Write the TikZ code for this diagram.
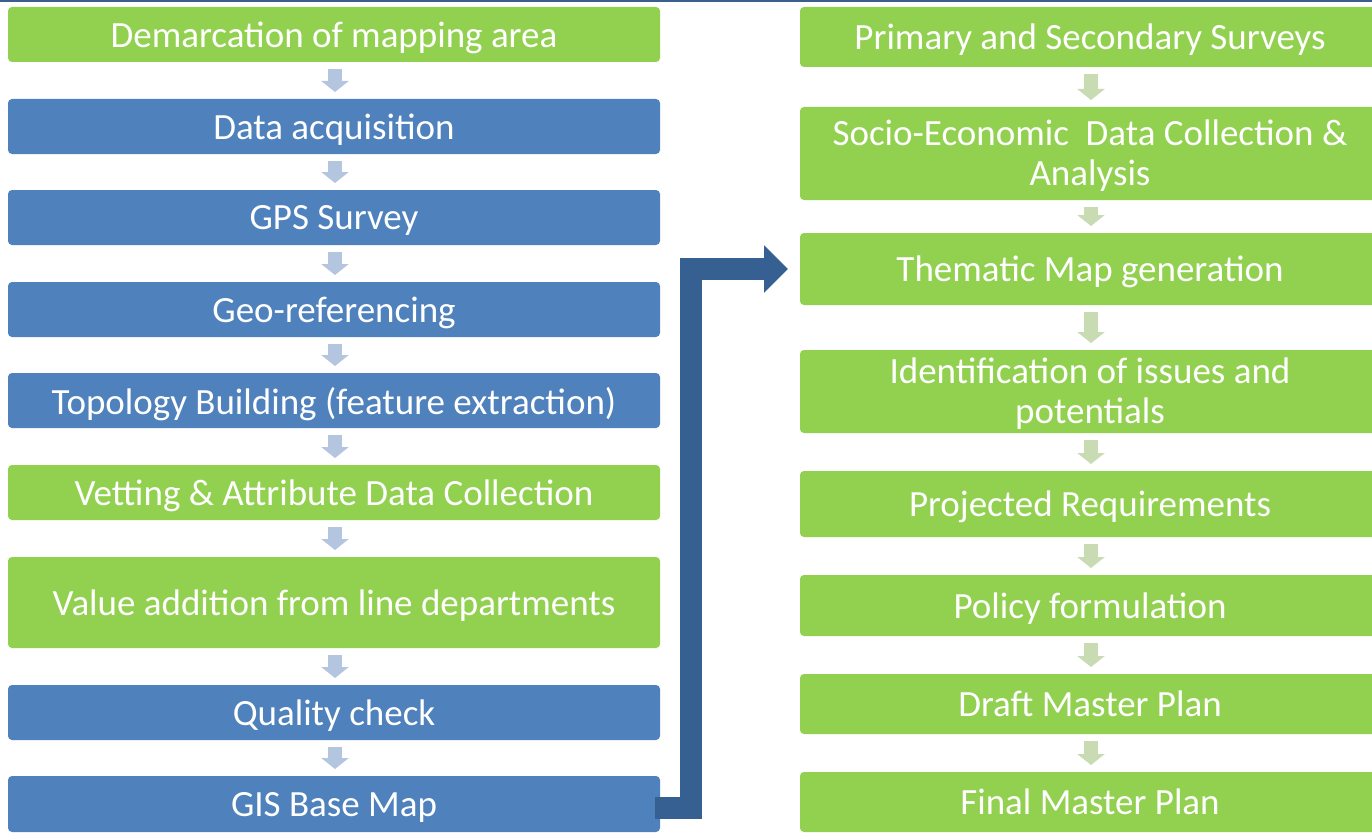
\documentclass[tikz,border=0pt]{standalone}
\usepackage{fontspec}
\setmainfont{Carlito}
\usetikzlibrary{arrows.meta}
\definecolor{gfill}{HTML}{92D050}
\definecolor{bfill}{HTML}{4F81BD}
\definecolor{darr}{HTML}{376092}
\definecolor{larr}{HTML}{B4C5E0}
\definecolor{garr}{HTML}{C8DBB3}
\definecolor{topline}{HTML}{3B5E8C}
\begin{document}
\begin{tikzpicture}[x=1pt,y=-1pt,
  box/.style={rounded corners=4pt, text=white, font=\fontsize{37}{40}\selectfont, align=center, inner sep=0pt, outer sep=0pt, text depth=0pt},
  twoline/.style={text=white, font=\fontsize{37}{40}\selectfont, align=center, inner sep=0pt},
  gbox/.style={box, fill=gfill},
  bbox/.style={box, fill=bfill},
  lcol/.style={minimum width=652pt},
  rcol/.style={minimum width=580pt},
  larrow/.style={draw=larr, line width=14pt, shorten <=7pt, shorten >=7pt, -{Triangle[width=27pt,length=11pt]}},
  rarrow/.style={draw=garr, line width=14pt, shorten <=7pt, shorten >=7pt, -{Triangle[width=27pt,length=11pt]}},
  bigarr/.style={draw=darr, line width=22pt, line join=miter, -{Triangle[width=46pt,length=24pt]}}
]
\useasboundingbox (0,0) rectangle (1372,832);
\fill[topline] (0,0) rectangle (1372,2.5);

% left column
\node[gbox, lcol, minimum height=55pt] (l1) at (334,34.5) {Demarcation of mapping area};
\node[bbox, lcol, minimum height=55pt] (l2) at (334,126.5) {Data acquisition};
\node[bbox, lcol, minimum height=55pt] (l3) at (334,217.5) {GPS Survey};
\node[bbox, lcol, minimum height=55pt] (l4) at (334,309.5) {Geo-referencing};
\node[bbox, lcol, minimum height=55pt] (l5) at (334,400.5) {Topology Building (feature extraction)};
\node[gbox, lcol, minimum height=55pt] (l6) at (334,492.5) {Vetting \& Attribute Data Collection};
\node[gbox, lcol, minimum height=91pt] (l7) at (334,602.5) {Value addition from line departments};
\node[bbox, lcol, minimum height=55pt] (l8) at (334,712.5) {Quality check};
\node[bbox, lcol, minimum height=56pt] (l9) at (334,804) {GIS Base Map};

% right column
\node[gbox, rcol, minimum height=60pt] (r1) at (1090,37) {Primary and Secondary Surveys};
\node[gbox, rcol, minimum height=93pt] (r2) at (1090,153.5) {};
\node[twoline] (t2) at ([yshift=-2pt]r2.center) {Socio-Economic~ Data Collection \&\\Analysis};
\node[gbox, rcol, minimum height=72pt] (r3) at (1090,269) {Thematic Map generation};
\node[gbox, rcol, minimum height=83pt] (r4) at (1090,391.5) {};
\node[twoline] (t4) at ([yshift=-2pt]r4.center) {Identification of issues and\\potentials};
\node[gbox, rcol, minimum height=66pt] (r5) at (1090,504) {Projected Requirements};
\node[gbox, rcol, minimum height=61pt] (r6) at (1090,605.5) {Policy formulation};
\node[gbox, rcol, minimum height=60pt] (r7) at (1090,704) {Draft Master Plan};
\node[gbox, rcol, minimum height=60pt] (r8) at (1090,802) {Final Master Plan};

% left arrows
\foreach \a/\b in {l1/l2,l2/l3,l3/l4,l4/l5,l5/l6,l6/l7,l7/l8,l8/l9}
  \draw[larrow] ([xshift=1pt]\a.south) -- ([xshift=1pt]\b.north);
% right arrows
\foreach \a/\b in {r1/r2,r2/r3,r3/r4,r4/r5,r5/r6,r6/r7,r7/r8}
  \draw[rarrow] ([xshift=1pt]\a.south) -- ([xshift=1pt]\b.north);

% big connector
\draw[bigarr] ([xshift=-5pt,yshift=-4pt]l9.east) -| ([xshift=-109pt]r3.west) -- ([xshift=-12pt]r3.west);
\end{tikzpicture}
\end{document}
